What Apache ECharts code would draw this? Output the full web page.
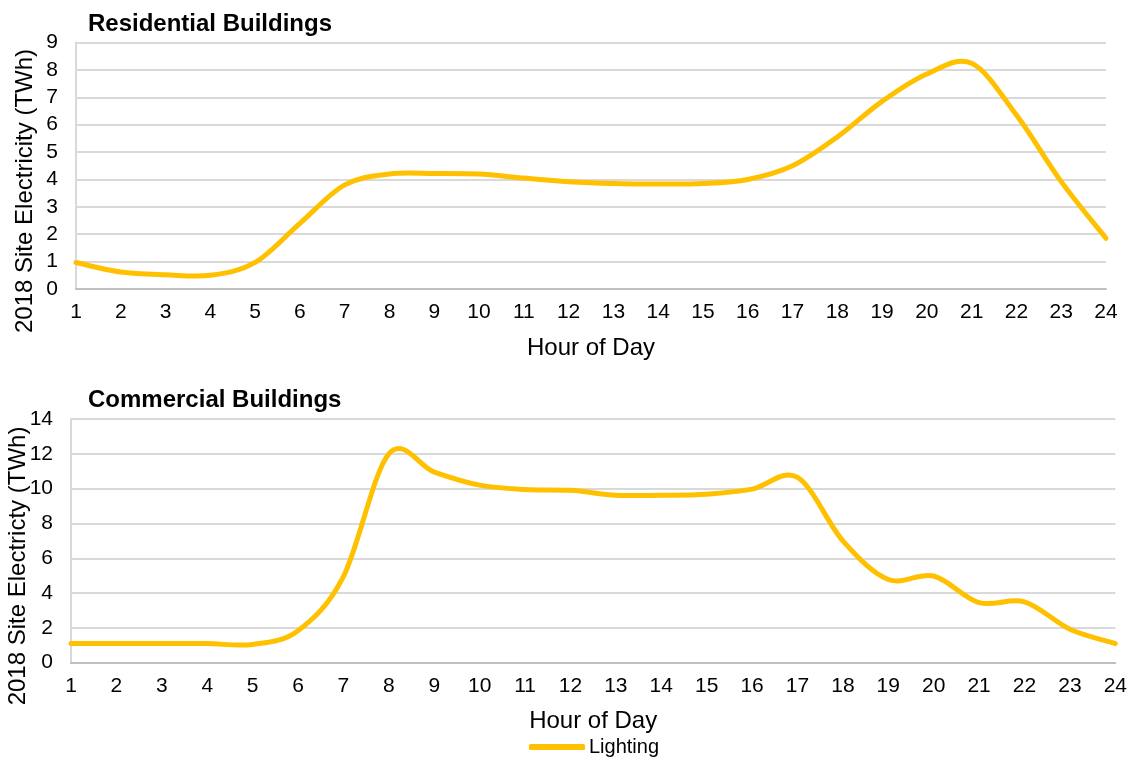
<!DOCTYPE html>
<html>
<head>
<meta charset="utf-8">
<script src="https://cdn.jsdelivr.net/npm/echarts@6/dist/echarts.min.js"></script>
<style>
  html, body { margin: 0; padding: 0; background: #fff; }
  #chart { width: 1130px; height: 757px; }
</style>
</head>
<body>
<div id="chart"></div>
<script>
// Hourly lighting electricity use, 2018 (TWh)
const hours = [1, 2, 3, 4, 5, 6, 7, 8, 9, 10, 11, 12, 13, 14, 15, 16, 17, 18, 19, 20, 21, 22, 23, 24];
const residentialLighting = [0.97, 0.62, 0.52, 0.5, 0.97, 2.4, 3.8, 4.2, 4.22, 4.2, 4.05, 3.92, 3.85, 3.83, 3.85, 4.0, 4.5, 5.55, 6.85, 7.85, 8.24, 6.35, 3.92, 1.85];
const commercialLighting = [1.1, 1.1, 1.1, 1.1, 1.05, 1.84, 4.95, 12.0, 10.95, 10.2, 9.95, 9.9, 9.62, 9.62, 9.68, 9.97, 10.65, 7.0, 4.78, 4.98, 3.45, 3.5, 1.92, 1.1];
const residentialTicks = { min: 0, max: 9, interval: 1 };
const commercialTicks = { min: 0, max: 14, interval: 2 };

const FONT = '"Liberation Sans", Arial, sans-serif';
const GOLD = '#FFC000';
const GRID_GRAY = '#d9d9d9';
const AXIS_GRAY = '#bfbfbf';

const pairs = (vals) => hours.map((h, i) => [h, vals[i]]);

function xAxisFor(gridIndex) {
  return {
    type: 'value', gridIndex, min: 1, max: 24, interval: 1,
    name: 'Hour of Day', nameLocation: 'middle', nameGap: 47,
    nameTextStyle: { fontFamily: FONT, fontSize: 24, color: '#000' },
    axisLine: { show: true, lineStyle: { color: AXIS_GRAY, width: 2 } },
    axisTick: { show: false },
    splitLine: { show: false },
    axisLabel: { fontFamily: FONT, fontSize: 21, color: '#000', margin: 13 }
  };
}
function yAxisFor(gridIndex, ticks) {
  return {
    type: 'value', gridIndex, min: ticks.min, max: ticks.max, interval: ticks.interval,
    axisLine: { show: true, lineStyle: { color: GRID_GRAY, width: 2 } },
    axisTick: { show: false },
    splitLine: { show: true, lineStyle: { color: GRID_GRAY, width: 2 } },
    axisLabel: { fontFamily: FONT, fontSize: 21, color: '#000', margin: 18 }
  };
}

// Smoothed line through every data point (cardinal spline, 1/6 tangent weight),
// positioned through the axis scales with api.coord.
function smoothLineSeries(idx, vals) {
  const data = pairs(vals);
  return {
    name: 'Lighting', type: 'custom', xAxisIndex: idx, yAxisIndex: idx,
    data: data,
    itemStyle: { color: GOLD },
    renderItem: function (params, api) {
      if (params.dataIndex !== 0) return null;
      const p = data.map(d => api.coord(d));
      const n = p.length;
      let path = 'M' + p[0][0] + ' ' + p[0][1];
      for (let i = 0; i < n - 1; i++) {
        const p0 = p[Math.max(i - 1, 0)];
        const p1 = p[i];
        const p2 = p[i + 1];
        const p3 = p[Math.min(i + 2, n - 1)];
        const c1x = p1[0] + (p2[0] - p0[0]) / 6;
        const c1y = p1[1] + (p2[1] - p0[1]) / 6;
        const c2x = p2[0] - (p3[0] - p1[0]) / 6;
        const c2y = p2[1] - (p3[1] - p1[1]) / 6;
        path += ' C' + c1x + ' ' + c1y + ' ' + c2x + ' ' + c2y + ' ' + p2[0] + ' ' + p2[1];
      }
      return {
        type: 'path',
        shape: { pathData: path },
        style: { fill: null, stroke: GOLD, lineWidth: 5, lineCap: 'round', lineJoin: 'round' },
        silent: true
      };
    }
  };
}

const chart = echarts.init(document.getElementById('chart'), null, { renderer: 'canvas' });
chart.setOption({
  animation: false,
  backgroundColor: '#fff',
  title: [
    { text: 'Residential Buildings', left: 88, top: 12, padding: 0,
      textStyle: { fontFamily: FONT, fontSize: 24, fontWeight: 'bold', color: '#000' } },
    { text: 'Commercial Buildings', left: 88, top: 388, padding: 0,
      textStyle: { fontFamily: FONT, fontSize: 24, fontWeight: 'bold', color: '#000' } }
  ],
  grid: [
    { left: 76, right: 24, top: 42.5, height: 246.5 },
    { left: 71, right: 14, top: 419, height: 243.7 }
  ],
  xAxis: [xAxisFor(0), xAxisFor(1)],
  yAxis: [yAxisFor(0, residentialTicks), yAxisFor(1, commercialTicks)],
  legend: {
    data: ['Lighting'], left: 529, top: 737, padding: 0,
    icon: 'roundRect', itemWidth: 56, itemHeight: 6, itemGap: 4,
    textStyle: { fontFamily: FONT, fontSize: 20, color: '#000', padding: [0, 0, 0, -1] }
  },
  graphic: [
    { type: 'text', x: 25, y: 191, rotation: Math.PI / 2,
      style: { text: '2018 Site Electricity (TWh)', font: '24px ' + FONT, fill: '#000',
               textAlign: 'center', textVerticalAlign: 'middle' } },
    { type: 'text', x: 18, y: 566, rotation: Math.PI / 2,
      style: { text: '2018 Site Electricty (TWh)', font: '24px ' + FONT, fill: '#000',
               textAlign: 'center', textVerticalAlign: 'middle' } }
  ],
  series: [smoothLineSeries(0, residentialLighting), smoothLineSeries(1, commercialLighting)]
});
</script>
</body>
</html>
